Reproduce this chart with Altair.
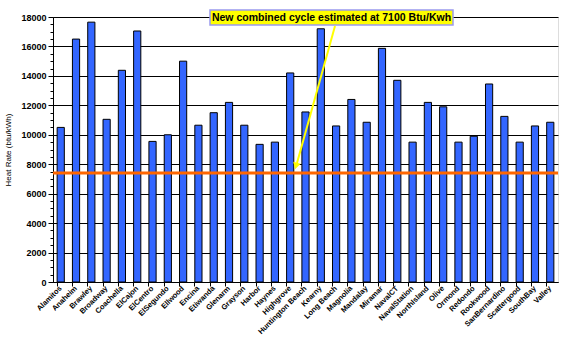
import altair as alt
import pandas as pd

plants = ["Alamitos", "Anaheim", "Brawley", "Broadway", "Coachella", "ElCajon", "ElCentro",
          "ElSegundo", "Ellwood", "Encina", "Etiwanda", "Glenarm", "Grayson", "Harbor",
          "Haynes", "Highgrove", "Huntington Beach", "Kearny", "Long Beach", "Magnolia",
          "Mandalay", "Miramar", "NavalCT", "NavalStation", "NorthIsland", "Olive", "Ormond",
          "Redondo", "Rookwood", "SanBernardino", "Scattergood", "SouthBay", "Valley"]
heat_rate = [10500, 16500, 17650, 11050, 14380, 17050, 9550,
             10000, 15000, 10650, 11500, 12200, 10650, 9350,
             9500, 14200, 11550, 17200, 10600, 12400,
             10850, 15870, 13700, 9500, 12200, 11900, 9500,
             9900, 13450, 11250, 9500, 10600, 10850]
reference_level = [7400]
annotation_text = ["New combined cycle estimated at 7100 Btu/Kwh"]
minor_ticks = list(range(0, 18001, 500))
major_ticks = list(range(0, 18001, 2000))

df = pd.DataFrame({"plant": plants, "rate": heat_rate})
FONT = "Liberation Sans"

xscale = alt.Scale(domain=plants, paddingInner=0.53, paddingOuter=0.27)
yscale = alt.Scale(domain=[0, 18000], nice=False)

bars = alt.Chart(df).mark_bar(color="#3366FF", stroke="black", strokeWidth=1).encode(
    x=alt.X("plant:N", sort=plants, scale=xscale,
            axis=alt.Axis(orient="bottom", title=None, labelAngle=-45, labelAlign="right",
                          labelBaseline="middle", ticks=False, labelFont=FONT,
                          labelFontWeight="bold", labelFontSize=7.5, labelColor="black",
                          domainColor="black", labelPadding=5, labelOverlap=False,
                          labelLimit=200)),
    y=alt.Y("rate:Q", scale=yscale,
            axis=alt.Axis(orient="left", title="Heat Rate (btu/kWh)", values=major_ticks,
                          format="d", grid=True, gridColor="black", gridOpacity=1, gridWidth=1,
                          domainColor="black", tickColor="black", tickSize=5,
                          labelFont=FONT, labelFontWeight="bold", labelFontSize=9,
                          labelColor="black", titleFont=FONT, titleFontSize=8,
                          titleFontWeight="normal", titleColor="black", titlePadding=8)),
)

# tick marks at category boundaries
cat_ticks = alt.Chart(df).mark_bar(opacity=0).encode(
    x=alt.X("plant:N", sort=plants, scale=xscale,
            axis=alt.Axis(orient="bottom", title=None, labels=False, bandPosition=0,
                          tickColor="black", tickSize=4, domain=False, grid=False)),
    y=alt.Y("rate:Q", scale=yscale, axis=None),
)

minor = alt.Chart(pd.DataFrame({"v": [0]})).mark_point(opacity=0).encode(
    y=alt.Y("v:Q", scale=yscale,
            axis=alt.Axis(orient="left", title=None, values=minor_ticks, labels=False,
                          grid=False, tickSize=3, tickColor="black", domain=False)),
)

ref = alt.Chart(pd.DataFrame({"level": reference_level})).mark_rule(
    color="#FF6600", strokeWidth=3).encode(y=alt.Y("level:Q", scale=yscale, axis=None))

# annotation (arrow + boxed text)
arrow_line = alt.Chart(pd.DataFrame({"v": [0]})).mark_rule(
    color="#FFFF00", strokeWidth=2, clip=False).encode(
    x=alt.value(282), y=alt.value(9), x2=alt.value(244), y2=alt.value(146))
arrow_head = alt.Chart(pd.DataFrame({"v": [0]})).mark_point(
    shape="triangle-down", filled=True, color="#FFFF00", opacity=1, size=60, angle=16,
    clip=False).encode(x=alt.value(243), y=alt.value(149))
box = alt.Chart(pd.DataFrame({"v": [0]})).mark_rect(
    fill="#FFFF00", stroke="#9999EE", strokeWidth=1.5, clip=False).encode(
    x=alt.value(157), x2=alt.value(400), y=alt.value(-7), y2=alt.value(8))
label = alt.Chart(pd.DataFrame({"t": annotation_text})).mark_text(
    font=FONT, fontWeight="bold", fontSize=10.5, color="black", clip=False).encode(
    text="t:N", x=alt.value(278.5), y=alt.value(1))

chart = alt.layer(cat_ticks, minor, bars, ref, arrow_line, arrow_head, box, label).resolve_axis(
    x="independent", y="independent"
).properties(
    width=505, height=265, autosize="none",
    padding={"left": 53, "top": 17, "right": 9, "bottom": 69},
).configure_view(stroke=None).configure(background="white")

chart.save("out.html", embed_options={"renderer": "svg", "actions": False})
